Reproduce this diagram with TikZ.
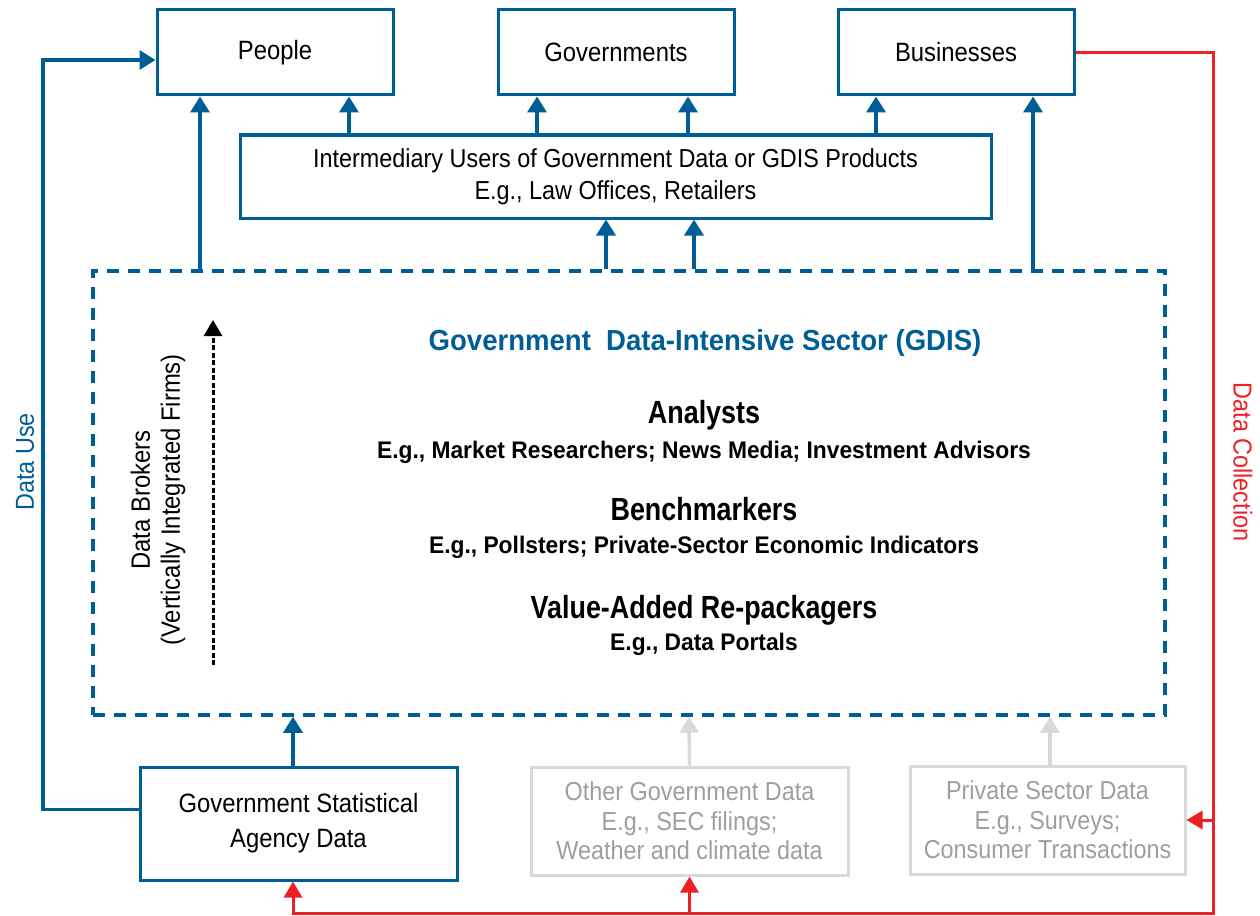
\documentclass[tikz,border=0pt]{standalone}
\usepackage{fontspec}
\setmainfont{Liberation Sans}[FakeStretch=0.9, BoldFeatures={FakeStretch=0.84}]
\newfontfamily\egfont{Liberation Sans}[FakeStretch=0.95]
\usetikzlibrary{arrows.meta}
\definecolor{gdisblue}{RGB}{0,94,150}
\definecolor{collectred}{RGB}{237,32,36}
\definecolor{ghostline}{RGB}{217,217,217}
\definecolor{ghosttext}{RGB}{158,158,158}
\begin{document}
\begin{tikzpicture}[x=1pt, y=-1pt]
    \tikzstyle{actor} = [rectangle, draw=gdisblue, line width=3pt, minimum width=236pt, minimum height=85pt, text centered, font=\fontsize{26.5}{30}\selectfont]
    \tikzstyle{source} = [rectangle, draw=gdisblue, line width=3pt, align=center, font=\fontsize{26.5}{35}\selectfont]
    \tikzstyle{ghost} = [rectangle, draw=ghostline, line width=3pt, align=center, text=ghosttext, font=\fontsize{26}{29.5}\selectfont]
    \tikzstyle{flow} = [draw=gdisblue, line width=3.5pt, -{Triangle[width=19pt,length=16pt]}]
    \tikzstyle{faint} = [draw=ghostline, line width=3.5pt, -{Triangle[width=19pt,length=16pt]}]
    \tikzstyle{collect} = [draw=collectred, line width=3pt, -{Triangle[width=18pt,length=16pt]}]
    \tikzstyle{heading} = [font=\bfseries\fontsize{32}{38}\selectfont]
    \tikzstyle{example} = [font=\egfont\bfseries\fontsize{24}{29}\selectfont]
    \useasboundingbox (0,0) rectangle (1260,915);

    % Final users
    \node [actor] (people) at (275,52.5) {People};
    \node [actor] (governments) at (616,52.5) {Governments};
    \node [actor] (businesses) at (956,52.5) {Businesses};

    % Intermediary users
    \node [source, minimum width=751pt, minimum height=83pt, font=\fontsize{26}{32}\selectfont] (intermediary) at (615.5,176.5)
        {Intermediary Users of Government Data or GDIS Products\\E.g., Law Offices, Retailers};

    % Data-intensive sector
    \node [rectangle, draw=gdisblue, line width=3.5pt, dash pattern=on 12pt off 9pt, minimum width=1072pt, minimum height=444pt] (gdis) at (629,493) {};
    \node [text=gdisblue, font=\egfont\bfseries\fontsize{29}{34}\selectfont] (gdis_title) at (705,343) {Government\ \ Data-Intensive Sector (GDIS)};
    \node [heading] (analysts) at (704,415) {Analysts};
    \node [example] (analysts_eg) at (704,452) {E.g., Market Researchers; News Media; Investment Advisors};
    \node [heading] (benchmarkers) at (704,509) {Benchmarkers};
    \node [example] (benchmarkers_eg) at (704,547) {E.g., Pollsters; Private-Sector Economic Indicators};
    \node [heading] (repackagers) at (704,610) {Value-Added Re-packagers};
    \node [example] (repackagers_eg) at (704,644) {E.g., Data Portals};

    % Data brokers
    \node [rotate=90, align=center, font=\fontsize{26.5}{30}\selectfont] (brokers) at (158,500) {Data Brokers\\(Vertically Integrated Firms)};
    \coordinate (broker_low) at (213,665);
    \coordinate (broker_top) at (213,320);
    \draw [line width=3pt, dash pattern=on 5pt off 2.5pt, -{Triangle[width=18pt,length=16pt]}] (broker_low) -- (broker_top);

    % Data sources
    \node [source, minimum width=317pt, minimum height=113pt] (statistical) at (298.5,823.5) {Government Statistical\\Agency Data};
    \node [ghost, minimum width=317pt, minimum height=108pt] (other_gov) at (689.5,821) {Other Government Data\\E.g., SEC filings;\\Weather and climate data};
    \node [ghost, minimum width=275pt, minimum height=108pt] (private) at (1047.5,820) {Private Sector Data\\E.g., Surveys;\\Consumer Transactions};

    % Data use
    \draw [flow] ([xshift=-429pt]gdis.north) -- ([xshift=-75pt]people.south);
    \draw [flow] ([xshift=-266.5pt]intermediary.north) -- ([xshift=74pt]people.south);
    \draw [flow] ([xshift=-78.5pt]intermediary.north) -- ([xshift=-79pt]governments.south);
    \draw [flow] ([xshift=72.5pt]intermediary.north) -- ([xshift=72pt]governments.south);
    \draw [flow] ([xshift=260.5pt]intermediary.north) -- ([xshift=-80pt]businesses.south);
    \draw [flow] ([xshift=404pt]gdis.north) -- ([xshift=77pt]businesses.south);
    \draw [flow] ([xshift=-23pt]gdis.north) -- ([xshift=-9.5pt]intermediary.south);
    \draw [flow] ([xshift=65pt]gdis.north) -- ([xshift=78.5pt]intermediary.south);
    \draw [flow] ([xshift=-5.5pt]statistical.north) -- ([xshift=-336pt]gdis.south);
    \draw [faint] (other_gov.north) -- ([xshift=60pt]gdis.south);
    \draw [faint] ([xshift=2.5pt]private.north) -- ([xshift=421pt]gdis.south);

    \coordinate (use_bend) at (43,400);
    \draw [flow] ([yshift=14pt]statistical.west) -| (use_bend) |- ([yshift=-7.5pt]people.west);
    \node [rotate=90, text=gdisblue, font=\fontsize{26}{29}\selectfont] (data_use) at (25,462) {Data Use};

    % Data collection
    \coordinate (collect_corner) at (1213,913);
    \draw [collect] (businesses.east) -| (collect_corner) -| ([xshift=-5.5pt]statistical.south);
    \draw [collect] (other_gov.south |- collect_corner) -- (other_gov.south);
    \draw [collect] (collect_corner |- private.east) -- (private.east);
    \node [rotate=-90, text=collectred, font=\fontsize{26}{29}\selectfont] (data_collection) at (1243,462) {Data Collection};
\end{tikzpicture}
\end{document}
